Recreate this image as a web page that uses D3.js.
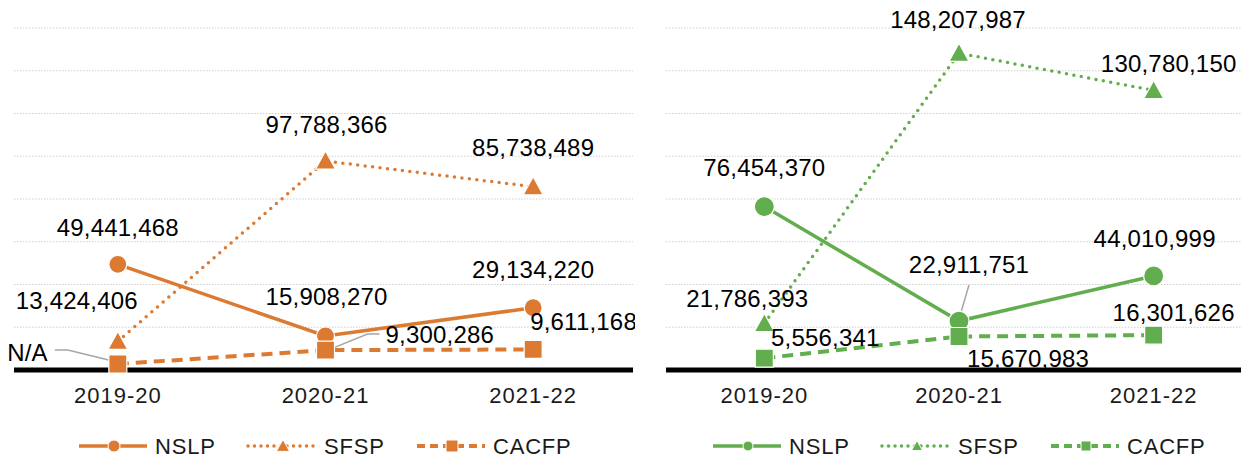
<!DOCTYPE html>
<html>

<head>
    <title>Meals served by program</title>
    <script src="https://d3js.org/d3.v7.min.js" charset="utf-8"></script>
    <style>
        body { margin: 0; background: #fff; }
        text { font-family: "Liberation Sans", Arial, sans-serif; }
    </style>
</head>

<body>
    <script>
        var width = 1241;
        var height = 465;

        // data
        var categories = ["2019-20", "2020-21", "2021-22"];
        var seriesNames = ["NSLP", "SFSP", "CACFP"];
        var yTickValues = [0, 20000000, 40000000, 60000000, 80000000, 100000000, 120000000, 140000000, 160000000];

        var leftNSLP = [49441468, 15908270, 29134220];
        var leftSFSP = [13424406, 97788366, 85738489];
        var leftCACFP = [2800000, 9300286, 9611168];   // first point is N/A, drawn just above the axis
        var leftCACFPText = ["N/A", "9,300,286", "9,611,168"];

        var rightNSLP = [76454370, 22911751, 44010999];
        var rightSFSP = [21786393, 148207987, 130780150];
        var rightCACFP = [5556341, 15670983, 16301626];

        var fmt = d3.format(",");

        var svg = d3.select("body").append("svg")
            .attr("width", width)
            .attr("height", height);

        var y = d3.scaleLinear()
            .domain([0, d3.max(yTickValues)])
            .range([370, 28]);

        // line styles per series
        var styles = {
            NSLP: { dash: null, width: 3.5, cap: "butt", marker: "circle" },
            SFSP: { dash: "0,7.5", width: 3.5, cap: "round", marker: "triangle" },
            CACFP: { dash: "11,7", width: 4, cap: "butt", marker: "square" }
        };

        function markerPath(type, s) {
            if (type == "circle") {
                return d3.symbol().type(d3.symbolCircle).size(Math.PI * s * s)();
            }
            if (type == "triangle") {
                return "M0," + (-s * 1.1) + "L" + (s * 1.1) + "," + (s * 0.9) + "L" + (-s * 1.1) + "," + (s * 0.9) + "Z";
            }
            return "M" + (-s) + "," + (-s) + "H" + s + "V" + s + "H" + (-s) + "Z";
        }

        function drawPanel(p) {
            var g = svg.append("g");
            var clipId = "clip-" + p.id;
            svg.append("clipPath").attr("id", clipId)
                .append("rect")
                .attr("x", p.clip[0]).attr("y", 0)
                .attr("width", p.clip[1] - p.clip[0]).attr("height", height);
            g.attr("clip-path", "url(#" + clipId + ")");

            var x = d3.scalePoint()
                .domain(categories)
                .range(p.range)
                .padding(0.5);

            // gridlines
            g.selectAll(".grid")
                .data(yTickValues.filter(function (d) { return d > 0; }))
                .enter()
                .append("line")
                .attr("x1", p.axis[0]).attr("x2", p.axis[1])
                .attr("y1", function (d) { return y(d); })
                .attr("y2", function (d) { return y(d); })
                .attr("stroke", "#cfcfcf")
                .attr("stroke-width", 1)
                .attr("stroke-dasharray", "1.5,1.5");

            // axis line
            g.append("line")
                .attr("x1", p.axis[0]).attr("x2", p.axis[1])
                .attr("y1", y(0)).attr("y2", y(0))
                .attr("stroke", "#000")
                .attr("stroke-width", 5);

            // category labels
            g.selectAll(".cat")
                .data(categories)
                .enter()
                .append("text")
                .attr("x", function (d) { return x(d); })
                .attr("y", 403)
                .attr("text-anchor", "middle")
                .attr("font-size", 22)
                .attr("letter-spacing", 1)
                .attr("fill", "#1a1a1a")
                .text(function (d) { return d; });

            var line = d3.line()
                .x(function (d, i) { return x(categories[i]); })
                .y(function (d) { return y(d); });

            // lines
            seriesNames.forEach(function (name) {
                var st = styles[name];
                g.append("path")
                    .datum(p.values[name])
                    .attr("d", line)
                    .attr("fill", "none")
                    .attr("stroke", p.color)
                    .attr("stroke-width", st.width)
                    .attr("stroke-linecap", st.cap)
                    .attr("stroke-dasharray", st.dash);
            });

            // leader lines
            seriesNames.forEach(function (name) {
                var leaders = p.leaders[name] || [];
                leaders.forEach(function (ld, i) {
                    if (!ld) return;
                    var px = x(categories[i]);
                    var py = y(p.values[name][i]);
                    g.append("path")
                        .attr("d", d3.line()(ld.map(function (o) { return [px + o[0], py + o[1]]; })))
                        .attr("fill", "none")
                        .attr("stroke", "#a6a6a6")
                        .attr("stroke-width", 1.5);
                });
            });

            // markers
            seriesNames.forEach(function (name) {
                var st = styles[name];
                g.selectAll(".m-" + name)
                    .data(p.values[name])
                    .enter()
                    .append("path")
                    .attr("d", markerPath(st.marker, p.markerSize[name]))
                    .attr("transform", function (d, i) {
                        return "translate(" + x(categories[i]) + "," + y(d) + ")";
                    })
                    .attr("fill", p.color)
                    .attr("stroke", "#fff")
                    .attr("stroke-width", 1.2);
            });

            // value labels
            seriesNames.forEach(function (name) {
                var texts = p.texts[name] || p.values[name].map(fmt);
                g.selectAll(".l-" + name)
                    .data(p.values[name])
                    .enter()
                    .append("text")
                    .attr("x", function (d, i) { return x(categories[i]) + p.labelPos[name][i][0]; })
                    .attr("y", function (d, i) { return y(d) + p.labelPos[name][i][1] + 8.5; })
                    .attr("text-anchor", function (d, i) { return p.labelPos[name][i][2] || "middle"; })
                    .attr("font-size", 24)
                    .attr("letter-spacing", 0.2)
                    .attr("fill", "#000")
                    .text(function (d, i) { return texts[i]; });
            });

            // legend
            var lg = svg.append("g");
            seriesNames.forEach(function (name, i) {
                var st = styles[name];
                var lx = p.legendX + i * 169;
                var ly = 446;
                lg.append("line")
                    .attr("x1", lx).attr("x2", lx + 68)
                    .attr("y1", ly).attr("y2", ly)
                    .attr("stroke", p.color)
                    .attr("stroke-width", st.width)
                    .attr("stroke-linecap", st.cap)
                    .attr("stroke-dasharray", name == "CACFP" ? "8,5" : (name == "SFSP" ? "0,6.5" : null));
                lg.append("path")
                    .attr("d", markerPath(st.marker, p.legendMarker))
                    .attr("transform", "translate(" + (lx + 35) + "," + ly + ")")
                    .attr("fill", p.color)
                    .attr("stroke", "#fff")
                    .attr("stroke-width", 1);
                lg.append("text")
                    .attr("x", lx + 76)
                    .attr("y", ly + 8)
                    .attr("font-size", 22)
                    .attr("letter-spacing", 0.8)
                    .attr("fill", "#1a1a1a")
                    .text(name);
            });
        }

        drawPanel({
            id: "left",
            color: "#dd7a31",
            range: [14, 637],
            axis: [14, 633],
            clip: [0, 635],
            markerSize: { NSLP: 9, SFSP: 9, CACFP: 9 },
            legendMarker: 6,
            legendX: 79,
            values: { NSLP: leftNSLP, SFSP: leftSFSP, CACFP: leftCACFP },
            texts: { CACFP: leftCACFPText },
            labelPos: {
                NSLP: [[0, -37], [1, -39], [0, -38]],
                SFSP: [[-41, -41], [1, -36], [0, -39]],
                CACFP: [[-70, -12, "end"], [60, -16, "start"], [-3, -28, "start"]]
            },
            leaders: {
                CACFP: [[[-63, -14], [-50, -14], [-5, -3]], [[0, 1], [42, -16], [54, -16]], null]
            }
        });

        drawPanel({
            id: "right",
            color: "#62ad4d",
            range: [667, 1251],
            axis: [666, 1241],
            clip: [660, 1241],
            markerSize: { NSLP: 10, SFSP: 9, CACFP: 9 },
            legendMarker: 5,
            legendX: 713,
            values: { NSLP: rightNSLP, SFSP: rightSFSP, CACFP: rightCACFP },
            texts: {},
            labelPos: {
                NSLP: [[0, -39], [10, -57], [1, -37]],
                SFSP: [[-17, -25], [-1, -34], [15, -27]],
                CACFP: [[61, -21], [8, 22, "start"], [20, -23]]
            },
            leaders: {
                NSLP: [null, [[0, -2], [10, -36]], null]
            }
        });
    </script>
</body>

</html>
